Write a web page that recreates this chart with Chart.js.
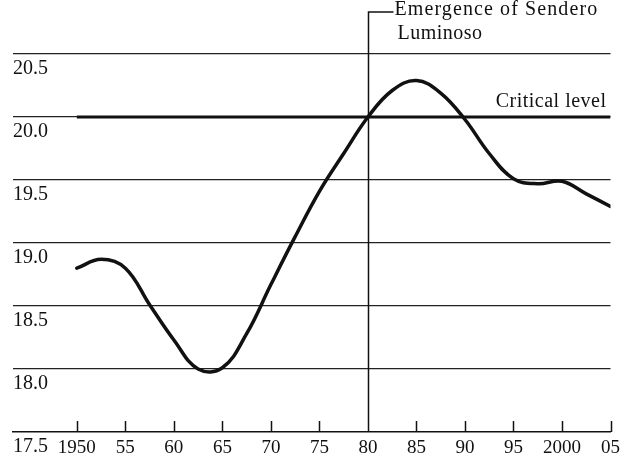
<!DOCTYPE html>
<html>
<head>
<meta charset="utf-8">
<style>
  html, body { margin: 0; padding: 0; background: #fff; }
  #wrap { width: 625px; height: 460px; }
</style>
<script src="https://cdn.jsdelivr.net/npm/chart.js@4/dist/chart.umd.min.js"></script>
</head>
<body>
<div id="wrap"><canvas id="chart"></canvas></div>
<script>
// datos
const years  = [1950, 1952.5, 1955, 1957.5, 1960, 1962.5, 1965, 1967.5, 1970, 1972.5, 1975, 1977.5, 1980, 1982.5, 1985, 1987.5, 1990, 1992.5, 1995, 1997.5, 2000, 2002.5, 2005];
const values = [18.80, 18.87, 18.80, 18.51, 18.23, 18.00, 18.01, 18.28, 18.67, 19.05, 19.41, 19.71, 20.0, 20.21, 20.29, 20.19, 19.98, 19.71, 19.51, 19.47, 19.49, 19.39, 19.29];

const criticalYears = [1950, 2005];
const criticalLevel = 20.0;
const eventYear = 1980;

const xTicks  = [1950, 1955, 1960, 1965, 1970, 1975, 1980, 1985, 1990, 1995, 2000, 2005];
const xLabels = ['1950', '55', '60', '65', '70', '75', '80', '85', '90', '95', '2000', '05'];
const yTicks  = [17.5, 18.0, 18.5, 19.0, 19.5, 20.0, 20.5];
const yLabels = ['17.5', '18.0', '18.5', '19.0', '19.5', '20.0', '20.5'];

const INK = '#111';
const SERIF = '"Liberation Serif", "DejaVu Serif", serif';

// marcas del eje x hacia arriba, línea del evento y textos
const extras = {
  id: 'extras',
  afterDatasetsDraw(chart) {
    const { ctx, chartArea: a, scales: { x, y } } = chart;
    ctx.save();
    ctx.strokeStyle = INK;
    ctx.lineWidth = 1.5;
    ctx.beginPath();
    xTicks.forEach(v => {
      const px = Math.round(x.getPixelForValue(v)) + 0.5;
      ctx.moveTo(px, a.bottom);
      ctx.lineTo(px, a.bottom - 11);
    });
    // línea vertical del evento con su corchete
    const ex = Math.round(x.getPixelForValue(eventYear)) + 0.5;
    ctx.moveTo(ex, a.bottom);
    ctx.lineTo(ex, a.top);
    ctx.lineTo(ex + 25, a.top);
    ctx.stroke();

    ctx.fillStyle = INK;
    ctx.font = '20px ' + SERIF;
    ctx.letterSpacing = '1.1px';
    ctx.textBaseline = 'middle';
    ctx.textAlign = 'left';
    ctx.fillText('Emergence of Sendero', ex + 26, a.top - 2);
    ctx.letterSpacing = '0.5px';
    ctx.fillText('Luminoso', ex + 29, a.top + 22);

    ctx.textAlign = 'right';
    ctx.fillText('Critical level', a.right - 4, y.getPixelForValue(criticalLevel) - 15);
    ctx.restore();
  }
};

new Chart(document.getElementById('chart'), {
  type: 'line',
  data: {
    datasets: [
      {
        data: years.map((t, i) => ({ x: t, y: values[i] })),
        borderColor: INK,
        borderWidth: 3.5,
        tension: 0.4,
        borderCapStyle: 'round',
        borderJoinStyle: 'round',
        pointRadius: 0,
        fill: false
      },
      {
        data: criticalYears.map(t => ({ x: t, y: criticalLevel })),
        borderColor: INK,
        borderWidth: 3,
        pointRadius: 0,
        fill: false
      }
    ]
  },
  options: {
    responsive: true,
    maintainAspectRatio: false,
    animation: false,
    layout: { padding: { top: 11, left: 13, right: 13, bottom: 0 } },
    plugins: { legend: { display: false }, tooltip: { enabled: false } },
    scales: {
      x: {
        type: 'linear',
        min: 1943.42,
        max: 2005,
        afterBuildTicks: s => { s.ticks = xTicks.map(v => ({ value: v })); },
        afterFit: s => { s.height = 28; },
        grid: { drawOnChartArea: false, drawTicks: false },
        border: { display: true, color: INK, width: 1.5 },
        ticks: {
          autoSkip: false,
          maxRotation: 0,
          padding: 5,
          color: INK,
          font: { family: SERIF, size: 19 },
          callback: (v) => xLabels[xTicks.indexOf(v)]
        }
      },
      y: {
        min: 17.5,
        max: 20.833,
        afterBuildTicks: s => { s.ticks = yTicks.map(v => ({ value: v })); },
        afterFit: s => { s.width = 0; },
        grid: {
          drawTicks: false,
          lineWidth: 1.3,
          color: c => (c.tick && c.tick.value === 17.5) ? 'rgba(0,0,0,0)' : '#222'
        },
        border: { display: false },
        ticks: {
          mirror: true,
          padding: 0,
          labelOffset: 15,
          color: INK,
          font: { family: SERIF, size: 20 },
          callback: (v) => yLabels[yTicks.indexOf(v)]
        }
      }
    }
  },
  plugins: [extras]
});
</script>
</body>
</html>
